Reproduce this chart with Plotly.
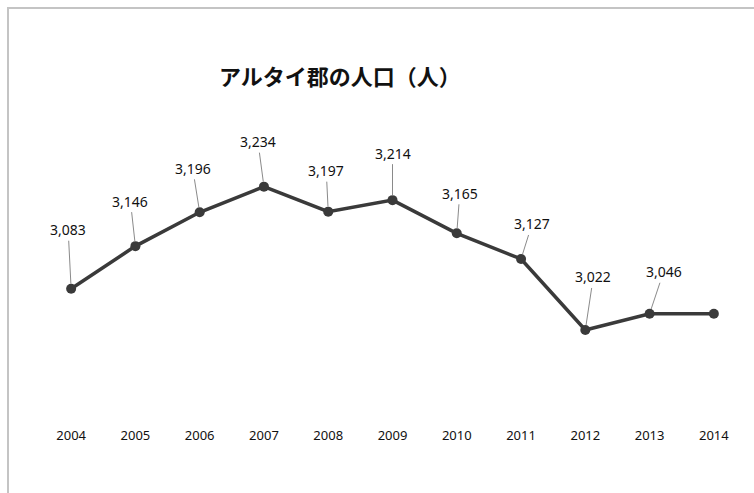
import plotly.graph_objects as go

years = [2004, 2005, 2006, 2007, 2008, 2009, 2010, 2011, 2012, 2013, 2014]
population = [3083, 3146, 3196, 3234, 3197, 3214, 3165, 3127, 3022, 3046, 3046]
label_shown = [True, True, True, True, True, True, True, True, True, True, False]
# label offsets (pixels) of each data label relative to its point
label_dx = [-3, -5, -7, -6, -2, 0, 3, 11, 8, 14, 0]
label_dy = [-59, -45, -44, -45, -41, -47, -40, -35, -53, -42, 0]

W, H = 754, 493
ML, MR, MT, MB = 39, 8, 142, 67

fig = go.Figure()
fig.add_trace(go.Scatter(
    x=years, y=population, mode="lines+markers",
    line=dict(color="#3a3a3a", width=3.5),
    marker=dict(color="#3a3a3a", size=10),
    hoverinfo="skip",
))

annotations = []
for yr, v, show, dx, dy in zip(years, population, label_shown, label_dx, label_dy):
    if not show:
        continue
    annotations.append(dict(
        x=yr, y=v, xref="x", yref="y",
        text=f"{v:,}", showarrow=True, arrowhead=0, arrowwidth=1,
        arrowcolor="#8a8a8a", ax=dx, ay=dy, standoff=5, startstandoff=0,
        font=dict(family="Noto Sans, sans-serif", size=14, color="#111111"),
    ))

annotations.append(dict(
    text="アルタイ郡の人口（人）", xref="paper", yref="paper",
    x=(340 - ML) / (W - ML - MR), y=(H - MB - 75) / (H - MT - MB),
    xanchor="center", yanchor="middle", showarrow=False,
    font=dict(family="Noto Sans CJK JP, sans-serif", size=22, color="#111111", weight=600),
))

pw = W - ML - MR
ph = H - MT - MB
fig.add_shape(type="rect", xref="paper", yref="paper",
              x0=(8 - ML) / pw, x1=(W + 20 - ML) / pw,
              y0=(H - MB - (H + 20)) / ph, y1=(H - MB - 8) / ph,
              line=dict(color="#c4c4c4", width=2), layer="below")

fig.update_layout(
    width=W, height=H,
    margin=dict(l=ML, r=MR, t=MT, b=MB),
    paper_bgcolor="white", plot_bgcolor="white",
    showlegend=False,
    annotations=annotations,
    xaxis=dict(range=[2003.5, 2014.5], tickvals=years, ticktext=[str(y) for y in years],
               showgrid=False, zeroline=False, showline=False, ticks="",
               tickfont=dict(family="Noto Sans, sans-serif", size=13, color="#111111"),
               fixedrange=True),
    yaxis=dict(range=[2880, 3300], visible=False, fixedrange=True),
)

fig.write_html("out.html")
